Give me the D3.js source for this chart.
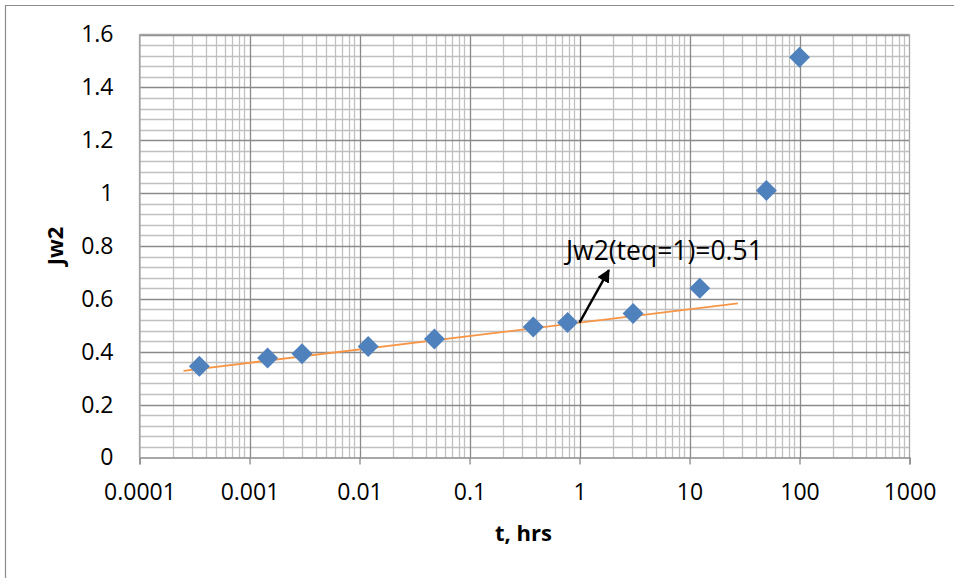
<!DOCTYPE html>
<html>
<head>
<meta charset="utf-8">
<script src="https://cdn.jsdelivr.net/npm/d3@7"></script>
<style>
  html, body { margin: 0; padding: 0; background: #fff; }
  svg { display: block; font-family: "Open Sans", "Noto Sans", sans-serif; }
</style>
</head>
<body>
<svg id="chart" width="954" height="578"></svg>
<script>
// Measured Jw2 against time (hours)
const timeHrs = [0.00035, 0.00146, 0.003, 0.012, 0.048, 0.38, 0.78, 3.07, 12.4, 50, 100];
const jw2Values = [0.345, 0.376, 0.392, 0.42, 0.448, 0.494, 0.511, 0.545, 0.64, 1.01, 1.514];

// Logarithmic trend line: Jw2 = intercept + slope * log10(t)
const trendIntercept = 0.51;
const trendSlope = 0.0506;
const trendRange = [0.000251, 27.5];

// Annotation for the value at t = 1
const noteText = "Jw2(teq=1)=0.51";
const noteFrom = [1, 0.51];
const noteTo = [1.85, 0.709];

// Axis ticks and labels
const xTicks = [0.0001, 0.001, 0.01, 0.1, 1, 10, 100, 1000];
const xTickLabels = ["0.0001", "0.001", "0.01", "0.1", "1", "10", "100", "1000"];
const yTicks = [0, 0.2, 0.4, 0.6, 0.8, 1, 1.2, 1.4, 1.6];
const yTickLabels = ["0", "0.2", "0.4", "0.6", "0.8", "1", "1.2", "1.4", "1.6"];
const xTitle = "t, hrs";
const yTitle = "Jw2";

const svg = d3.select("#chart");
const plotL = 139.5, plotR = 909.5, plotT = 34.5, plotB = 457.5;

const x = d3.scaleLog().domain([0.0001, 1000]).range([plotL, plotR]);
const y = d3.scaleLinear().domain([0, 1.6]).range([plotB, plotT]);

// Outer chart frame (left and top edges visible)
svg.append("path")
  .attr("d", "M5.5,578 V5.5 H954")
  .attr("fill", "none").attr("stroke", "#8c8c8c").attr("stroke-width", 1.2);

// Minor gridlines
const xMinor = [];
for (let e = -4; e < 3; e++) for (let k = 2; k <= 9; k++) xMinor.push(k * Math.pow(10, e));
const yMinor = d3.range(0, 41).map(i => i * 0.04).filter(v => !yTicks.some(t => Math.abs(t - v) < 1e-6));

const grid = svg.append("g");
grid.selectAll("line.xm").data(xMinor).join("line")
  .attr("x1", d => Math.round(x(d)) + 0.5).attr("x2", d => Math.round(x(d)) + 0.5)
  .attr("y1", plotT).attr("y2", plotB)
  .attr("stroke", "#c0c0c0").attr("stroke-width", 1.3);
grid.selectAll("line.ym").data(yMinor).join("line")
  .attr("y1", d => Math.round(y(d)) + 0.5).attr("y2", d => Math.round(y(d)) + 0.5)
  .attr("x1", plotL).attr("x2", plotR)
  .attr("stroke", "#c0c0c0").attr("stroke-width", 1.3);

// Major gridlines
grid.selectAll("line.xM").data(xTicks.slice(1, -1)).join("line")
  .attr("x1", d => Math.round(x(d)) + 0.5).attr("x2", d => Math.round(x(d)) + 0.5)
  .attr("y1", plotT).attr("y2", plotB)
  .attr("stroke", "#8a8a8a").attr("stroke-width", 1.3);
grid.selectAll("line.yM").data(yTicks.slice(1)).join("line")
  .attr("y1", d => Math.round(y(d)) + 0.5).attr("y2", d => Math.round(y(d)) + 0.5)
  .attr("x1", plotL).attr("x2", plotR)
  .attr("stroke", "#8a8a8a").attr("stroke-width", 1.3);

// Plot area edges
svg.append("line").attr("x1", plotL).attr("x2", plotL).attr("y1", plotT).attr("y2", plotB)
  .attr("stroke", "#a6a6a6").attr("stroke-width", 1.3);
svg.append("line").attr("x1", plotR).attr("x2", plotR).attr("y1", plotT).attr("y2", plotB)
  .attr("stroke", "#a6a6a6").attr("stroke-width", 1.3);

// X axis with decade ticks
const xAxis = svg.append("g").attr("transform", `translate(0,${plotB})`)
  .call(d3.axisBottom(x).tickValues(xTicks).tickFormat((d, i) => xTickLabels[i]).tickSize(7).tickPadding(19));
xAxis.select(".domain").attr("stroke", "#8a8a8a").attr("stroke-width", 1.3);
xAxis.selectAll(".tick line").attr("stroke", "#8a8a8a").attr("stroke-width", 1.3);
xAxis.selectAll(".tick text").attr("font-size", 23).attr("fill", "#000")
  .attr("font-family", "'Open Sans', sans-serif");

// Y axis labels
const yAxis = svg.append("g").attr("transform", `translate(${plotL},0)`)
  .call(d3.axisLeft(y).tickValues(yTicks).tickFormat((d, i) => yTickLabels[i]).tickSize(0).tickPadding(26));
yAxis.select(".domain").attr("stroke", "#a6a6a6").attr("stroke-width", 1.3);
yAxis.selectAll(".tick text").attr("font-size", 23).attr("fill", "#000")
  .attr("font-family", "'Open Sans', sans-serif");

// Top border of plot area
svg.append("line").attr("x1", plotL).attr("x2", plotR).attr("y1", plotT).attr("y2", plotT)
  .attr("stroke", "#a6a6a6").attr("stroke-width", 1.3);

// Trend line
const trendPts = trendRange.map(t => [x(t), y(trendIntercept + trendSlope * Math.log10(t))]);
svg.append("path")
  .attr("d", d3.line()(trendPts))
  .attr("stroke", "#F79646").attr("stroke-width", 1.8).attr("fill", "none");

// Data markers (diamonds)
const diamond = "M0,-10.5L10.5,0L0,10.5L-10.5,0Z";
svg.append("g").selectAll("path").data(timeHrs).join("path")
  .attr("d", diamond)
  .attr("transform", (d, i) => `translate(${x(d)},${y(jw2Values[i])})`)
  .attr("fill", "#4F81BD");

// Arrow annotation
svg.append("defs").append("marker")
  .attr("id", "arrowhead").attr("viewBox", "0 0 10 10")
  .attr("refX", 9).attr("refY", 5)
  .attr("markerWidth", 5.5).attr("markerHeight", 5.5)
  .attr("markerUnits", "strokeWidth").attr("orient", "auto")
  .append("path").attr("d", "M0,0L10,5L0,10Z").attr("fill", "#000");
svg.append("line")
  .attr("x1", x(noteFrom[0])).attr("y1", y(noteFrom[1]))
  .attr("x2", x(noteTo[0])).attr("y2", y(noteTo[1]))
  .attr("stroke", "#000").attr("stroke-width", 2.4)
  .attr("marker-end", "url(#arrowhead)");

svg.append("text")
  .attr("x", 566).attr("y", 259.5)
  .attr("font-size", 26.5).attr("fill", "#000")
  .text(noteText);

// Axis titles
svg.append("text")
  .attr("x", (plotL + plotR) / 2 - 1).attr("y", 541)
  .attr("text-anchor", "middle").attr("font-size", 22).attr("font-weight", "bold")
  .text(xTitle);
svg.append("text")
  .attr("transform", `translate(63,${(plotT + plotB) / 2}) rotate(-90)`)
  .attr("text-anchor", "middle").attr("font-size", 22).attr("font-weight", "bold")
  .text(yTitle);
</script>
</body>
</html>
